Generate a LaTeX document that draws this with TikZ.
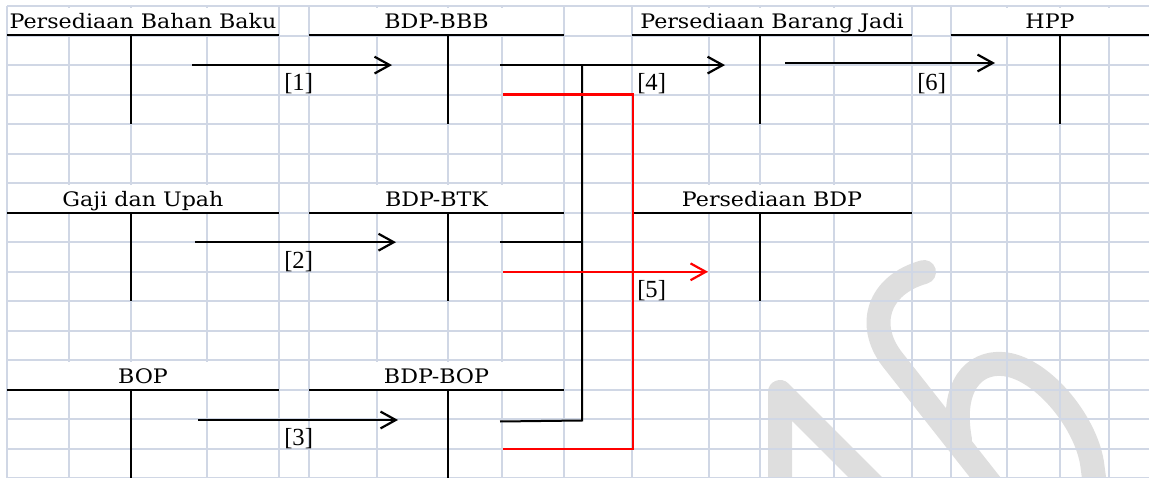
\documentclass[tikz,border=0pt]{standalone}
\usepackage{fontspec}
\setmainfont{DejaVu Serif}[FakeStretch=1.11]
\newfontfamily\numfont{Liberation Serif}
\usetikzlibrary{arrows.meta}
\definecolor{gridc}{HTML}{D0D7E5}
\definecolor{wmgray}{HTML}{DEDEDE}
\tikzset{
    gridln/.style = {draw=gridc, line width=0.05cm},
    tline/.style = {draw=black, line width=0.05cm},
    head/.style = {fill=white, inner sep=0pt, anchor=base, text height=0.53cm, text depth=0.17cm},
    lbl/.style = {inner sep=0pt, anchor=base west, font=\numfont\fontsize{17.5}{20}\selectfont},
    flow/.style = {-{Straight Barb[length=0.38cm,width=0.42cm]}, line width=0.055cm},
    flowr/.style = {flow, red},
    edger/.style = {line width=0.055cm, red},
    wmark/.style = {draw=wmgray, line width=0.6cm, line cap=round, line join=round}, % watermark
}

\begin{document}
\begin{tikzpicture}[x=0.025cm, y=-0.025cm, font=\fontsize{14.2}{17}\selectfont]
\useasboundingbox (0,0) rectangle (1149,478);
% watermark
\draw[wmark] (780,500) -- (780,392) -- (888,500);
\draw[wmark] (924,272) .. controls (878,285) and (866,325) .. (892,359) -- (1003,500);
\draw[wmark] (960,440) .. controls (950,385) and (975,362) .. (1002,364) .. controls (1040,366) and (1085,420) .. (1092,463) -- (1097,500);
% sheet grid
\foreach \x in {7,69,131,207,279,309,377,448,502,564,632,709,760,834,912,951,1007,1060,1109}
    \draw[gridln] (\x,6) -- (\x,478.5);
\foreach \k in {0,...,16}
    \draw[gridln] (7,{6+29.53*\k}) -- (1149,{6+29.53*\k});
% account titles
\node[head, minimum width=6.75cm] (pbb) at (143,28.8) {Persediaan Bahan Baku};
\node[head, minimum width=6.33cm] (bbb) at (436.5,28.8) {BDP-BBB};
\node[head, minimum width=6.95cm] (pbj) at (772,28.8) {Persediaan Barang Jadi};
\node[head, minimum width=4.9cm] (hpp) at (1050,28.8) {HPP};
\node[head, minimum width=6.75cm] (gaji) at (143,206.2) {Gaji dan Upah};
\node[head, minimum width=6.33cm] (btk) at (436.5,206.2) {BDP-BTK};
\node[head, minimum width=6.95cm] (pbdp) at (772,206.2) {Persediaan BDP};
\node[head, minimum width=6.75cm] (bop) at (143,383.4) {BOP};
\node[head, minimum width=6.33cm] (bopb) at (436.5,383.4) {BDP-BOP};
% T accounts
\draw[tline] (7,35.5) -- (279,35.5) (131,35.5) -- (131,124.1);
\draw[tline] (309,35.5) -- (564,35.5) (448,35.5) -- (448,124.1);
\draw[tline] (632,35.5) -- (912,35.5) (760,35.5) -- (760,124.1);
\draw[tline] (951,35.5) -- (1149,35.5) (1060,35.5) -- (1060,124.1);
\draw[tline] (7,212.7) -- (279,212.7) (131,212.7) -- (131,301.3);
\draw[tline] (309,212.7) -- (564,212.7) (448,212.7) -- (448,301.3);
\draw[tline] (632,212.7) -- (912,212.7) (760,212.7) -- (760,301.3);
\draw[tline] (7,389.9) -- (279,389.9) (131,389.9) -- (131,478.5);
\draw[tline] (309,389.9) -- (564,389.9) (448,389.9) -- (448,478.5);
% entry numbers
\node[lbl] (n1) at (284,91) {[1]};
\node[lbl] (n2) at (284,268) {[2]};
\node[lbl] (n3) at (284,445) {[3]};
\node[lbl] (n4) at (637,91) {[4]};
\node[lbl] (n5) at (637,297) {[5]};
\node[lbl] (n6) at (917,91) {[6]};
% arrow ends
\coordinate (f1s) at (192,65.1);
\coordinate (f1e) at (392,65.1);
\coordinate (f2s) at (195,242.2);
\coordinate (f2e) at (396,242.2);
\coordinate (f3s) at (198,420);
\coordinate (f3e) at (398,420);
\coordinate (f4s) at (500,65.1);
\coordinate (f4e) at (725,65.1);
\coordinate (jtop) at (582,65.1);
\coordinate (jbot) at (582,420.5);
\coordinate (btkout) at (500,242.2);
\coordinate (bopout) at (500,421.5);
\coordinate (f6s) at (785,63);
\coordinate (f6e) at (995,63);
\coordinate (rbbb) at (503,94.6);
\coordinate (rtop) at (633,94.6);
\coordinate (rbot) at (633,449);
\coordinate (rbop) at (503,449);
\coordinate (rbtk) at (503,271.8);
\coordinate (rbdp) at (708,271.8);
\draw[flow] (f1s) -- (f1e);
\draw[flow] (f2s) -- (f2e);
\draw[flow] (f3s) -- (f3e);
\draw[flow] (f4s) -- (f4e);
\draw[tline] (jtop) -- (jbot) -- (bopout);
\draw[tline] (btkout) -- (btkout -| jtop);
\draw[flow] (f6s) -- (f6e);
\draw[edger] (rbbb) -- (rtop) -- (rbot) -- (rbop);
\draw[flowr] (rbtk) -- (rbdp);
\end{tikzpicture}
\end{document}
